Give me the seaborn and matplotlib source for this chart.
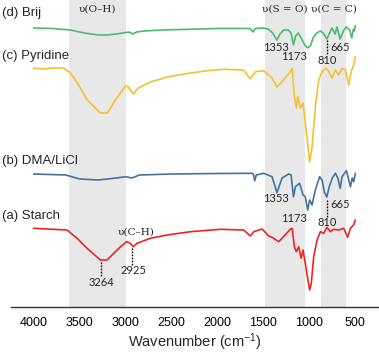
import matplotlib
matplotlib.use("Agg")
import matplotlib.pyplot as plt
import seaborn as sns
import pandas as pd

# ---------------- data (wavenumber in cm-1, offset intensity in a.u.) ----------------
brij_wn = [4000, 3800, 3600, 3450, 3300, 3200, 3100, 3000, 2960, 2920, 2880, 2800, 2600, 2400,
           2200, 2000, 1800, 1650, 1610, 1590, 1500, 1450, 1400, 1353, 1320, 1280, 1230, 1200,
           1173, 1150, 1120, 1090, 1050, 1020, 990, 960, 920, 880, 850, 810, 780, 755, 720, 700,
           665, 630, 600, 560, 540, 520, 510, 500]
brij_val = [279, 278.5, 277, 274, 272, 272, 273, 274.5, 275, 273, 275, 276, 277, 277.5,
            278, 278.5, 278.5, 278.5, 275, 278.5, 279, 278, 274, 267, 273, 277, 277, 274,
            262, 271, 274, 269, 262, 259, 261, 269, 274, 276, 274, 268, 274, 279, 273, 280,
            268, 276, 280, 277, 269, 278, 276, 281.5]

pyr_wn = [4000, 3900, 3800, 3677, 3600, 3524, 3416, 3274, 3198, 3111, 3002, 2970, 2915, 2861,
          2730, 2545, 2295, 2113, 1936, 1718, 1642, 1587, 1500, 1406, 1352, 1297, 1207, 1188,
          1163, 1141, 1127, 1098, 1069, 1044, 1019, 997, 971, 935, 899, 862, 826, 793, 753,
          717, 681, 644, 608, 572, 546, 518, 500]
pyr_val = [239, 238, 239, 239, 234, 224, 207, 194, 194, 207, 221, 220, 213, 219,
           225, 230, 234, 236.3, 237.7, 237, 228, 235.3, 236.3, 229, 220, 225.3, 235.3, 238.7,
           210.3, 199, 210.3, 199, 204, 184, 164, 145, 160, 200, 227, 235.3, 238.7, 236.3, 229,
           237, 232, 238.7, 237, 222, 235.3, 242, 250.3]

dma_wn = [4000, 3650, 3500, 3300, 3100, 3000, 2930, 2850, 2500, 2000, 1620, 1606, 1595, 1577,
          1497, 1406, 1353, 1297, 1225, 1199, 1173, 1152, 1106, 1069, 1044, 1019, 997, 971,
          935, 888, 862, 837, 810, 784, 750, 717, 690, 665, 644, 597, 553, 534, 518, 500]
dma_val = [133, 132, 128, 127, 129, 130.3, 129, 132, 133, 133.5, 133.7, 132, 126.3, 132,
           133.7, 130.3, 114.3, 129, 133, 132, 110.3, 120.3, 123.7, 112, 110.3, 97, 107, 102,
           117, 130.3, 127, 115, 110, 120.3, 129, 133.7, 129, 118.7, 130.3, 136.3, 120.3, 129, 125.3, 133.7]

starch_wn = [4000, 3637, 3528, 3419, 3274, 3201, 3093, 2991, 2948, 2918, 2875, 2730, 2548, 2295,
             1968, 1715, 1642, 1606, 1515, 1443, 1406, 1334, 1297, 1207, 1188, 1163, 1141, 1116,
             1090, 1069, 1044, 1019, 997, 979, 953, 916, 880, 844, 808, 772, 736, 681, 627, 583,
             554, 518, 500]
starch_val = [78.7, 77, 68.7, 58.7, 47, 47, 57, 65.3, 63.7, 60.3, 63.7, 68.7, 72, 75.3,
              77.7, 77, 71, 75.3, 78, 71, 69.7, 65.3, 68.7, 77.7, 78.7, 60.3, 55.3, 60.3,
              48.7, 57, 43.7, 28.7, 17, 23.7, 50.3, 67, 75.3, 73.7, 79.7, 75.3, 77.7, 77, 78.7, 69.7,
              78.7, 82, 87]

series_names = ["(d) Brij", "(c) Pyridine", "(b) DMA/LiCl", "(a) Starch"]
series_colors = ["#4dbb6d", "#f5c12e", "#4472a0", "#ee2424"]

regions = [(3620, 3000), (1480, 1050), (870, 600)]
region_labels = ["υ(O–H)", "υ(S = O)", "υ(C = C)"]

x_ticks = [4000, 3500, 3000, 2500, 2000, 1500, 1000, 500]

# ---------------- plot ----------------
sns.set_style("white")
plt.rcParams["font.family"] = ["Liberation Sans", "DejaVu Sans"]
plt.rcParams["mathtext.fontset"] = "custom"
plt.rcParams["mathtext.rm"] = "Liberation Sans"
plt.rcParams["mathtext.it"] = "Liberation Sans:italic"

frames = []
for name, wn, val in [(series_names[0], brij_wn, brij_val),
                      (series_names[1], pyr_wn, pyr_val),
                      (series_names[2], dma_wn, dma_val),
                      (series_names[3], starch_wn, starch_val)]:
    frames.append(pd.DataFrame({"wn": wn, "val": val, "sample": name}))
df = pd.concat(frames, ignore_index=True)

fig = plt.figure(figsize=(3.79, 3.56), dpi=100)
ax = fig.add_axes([10.7 / 379, 49 / 356, 367.6 / 379, 307 / 356])

for (lo, hi) in regions:
    ax.axvspan(lo, hi, color="#e8e8e8", lw=0, zorder=0)

sns.lineplot(data=df, x="wn", y="val", hue="sample", hue_order=series_names,
             palette=series_colors, estimator=None, sort=False, lw=1.2,
             legend=False, ax=ax, zorder=3)

ax.set_xlim(4250, 250)
ax.set_ylim(0, 307)

# sample labels
label_y_px = [13, 56, 161, 216]
for name, ypx in zip(series_names, label_y_px):
    fig.text(2 / 379, 1 - ypx / 356, name, fontsize=9.5, va="center", ha="left")

# band labels
serif = ["DejaVu Serif"]
for (lo, hi), lab in zip(regions, region_labels):
    ax.text((lo + hi) / 2, 298, lab, fontsize=7.5, ha="center", va="center", family=serif)
ax.text(2882, 75, "υ(C–H)", fontsize=7.5, ha="center", va="center", family=serif)

# peak labels
peak_fs = 8
def peak(x, y, s):
    ax.text(x, y, s, fontsize=peak_fs, ha="center", va="center", family=["Lato", "DejaVu Sans"])

def dline(x, y0, y1):
    ax.plot([x, x], [y0, y1], color="black", lw=1, ls=(0, (1.2, 1.0)), zorder=4)

# Brij
peak(1360, 259.8, "1353")
peak(1165, 250.5, "1173")
peak(810, 246.3, "810")
peak(665, 259.7, "665")
dline(810, 267, 252)
# DMA/LiCl
peak(1360, 108.2, "1353")
peak(1165, 88.2, "1173")
peak(810, 84.7, "810")
peak(665, 102.7, "665")
dline(810, 107, 90.3)
# Starch
peak(3264, 24.3, "3264")
dline(3264, 45, 30.3)
peak(2915, 37, "2925")
dline(2925, 59, 41)

# axes styling
for s in ["left", "right", "top"]:
    ax.spines[s].set_visible(False)
ax.spines["bottom"].set_color("#333333")
ax.spines["bottom"].set_linewidth(1.0)
ax.set_yticks([])
ax.set_xticks(x_ticks)
ax.set_xticks([3750, 3250, 2750, 2250, 1750, 1250, 750, 4250, 250], minor=True)
ax.tick_params(axis="x", which="major", direction="out", length=4.5, width=1,
               labelsize=9, pad=2.5, colors="#333333", labelcolor="black")
ax.tick_params(axis="x", which="minor", direction="out", length=4, width=1, colors="#333333")
ax.set_xlabel("Wavenumber (cm$^{-1}$)", fontsize=10.5, labelpad=2)
ax.set_ylabel("")

fig.savefig("out.png", dpi=100)
